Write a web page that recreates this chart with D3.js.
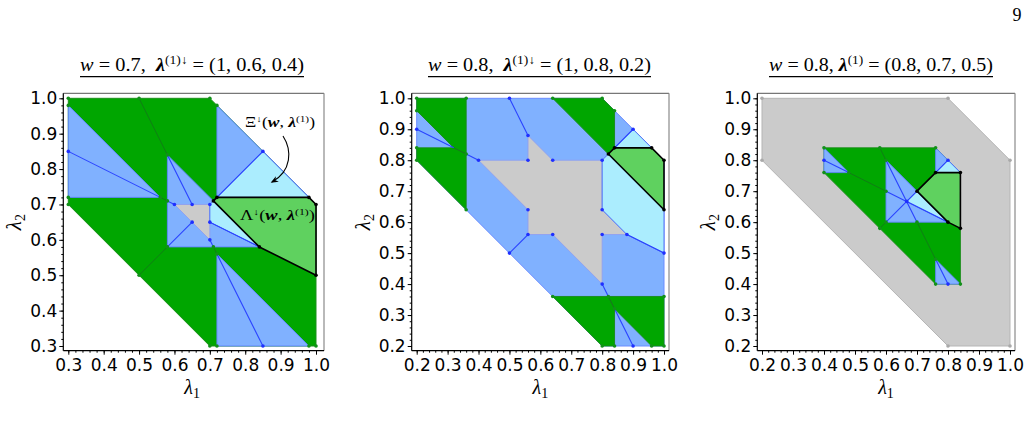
<!DOCTYPE html>
<html>
<head>
<meta charset="utf-8">
<script src="https://cdn.jsdelivr.net/npm/d3@7"></script>
<style>
  body { margin: 0; background: #fff; }
  .tick text { font-family: "DejaVu Sans", sans-serif; font-size: 17px; fill: #000; }
  .serif { font-family: "Liberation Serif", "DejaVu Serif", serif; fill: #000; }
</style>
</head>
<body>
<svg id="fig" width="1029" height="427"></svg>
<script>
// ---- données (coordonnées lambda1, lambda2) ----
const ticks1 = [0.3, 0.4, 0.5, 0.6, 0.7, 0.8, 0.9, 1.0];
const ticks23 = [0.2, 0.3, 0.4, 0.5, 0.6, 0.7, 0.8, 0.9, 1.0];

// panneau 1 : w = 0.7
const p1Hull = [[0.3,1],[0.7,1],[1,0.7],[1,0.3],[0.7,0.3],[0.3,0.7]];
const p1Green = [];
const p1Blue = [
  [[0.3,0.98],[0.3,0.72],[0.56,0.72]],
  [[0.98,0.3],[0.72,0.3],[0.72,0.56]],
  [[0.58,0.84],[0.58,0.58],[0.84,0.58]],
  [[0.72,0.98],[0.72,0.72],[0.98,0.72]]
];
const p1Gray = [[[0.6,0.7],[0.7,0.7],[0.7,0.6]]];
const p1Cyan = [
  [[0.72,0.72],[0.85,0.85],[0.98,0.72]],
  [[0.7,0.7],[0.71,0.71],[0.84,0.58],[0.7,0.65]]
];
const p1Lambda = [[0.71,0.71],[0.72,0.72],[0.98,0.72],[1,0.7],[1,0.5],[0.84,0.58]];
const p1BlueLines = [
  [[0.3,0.85],[0.56,0.72]], [[0.58,0.71],[0.6,0.7]],
  [[0.85,0.3],[0.72,0.56]], [[0.71,0.58],[0.7,0.6]],
  [[0.58,0.84],[0.65,0.7]], [[0.7,0.65],[0.84,0.58]],
  [[0.58,0.58],[0.65,0.65]], [[0.72,0.72],[0.85,0.85]]
];
const p1GreenLines = [
  [[0.5,1],[0.58,0.84]], [[0.5,0.5],[0.58,0.58]],
  [[0.56,0.72],[0.58,0.71]], [[0.72,0.56],[0.71,0.58]]
];
const p1BlueDots = [[0.3,0.85],[0.85,0.3],[0.85,0.85],[0.6,0.7],[0.65,0.7],[0.7,0.7],[0.65,0.65],[0.7,0.65],[0.7,0.6]];
const p1GreenDots = [[0.3,1],[0.3,0.98],[0.5,1],[0.7,1],[0.72,0.98],[0.58,0.84],[0.3,0.72],[0.3,0.7],[0.56,0.72],
  [0.58,0.71],[0.58,0.58],[0.5,0.5],[0.7,0.3],[0.72,0.3],[0.98,0.3],[1,0.3],[0.71,0.58],[0.72,0.56]];

// panneau 2 : w = 0.8, (1, 0.8, 0.2)
const p2Hull = [[0.2,1],[0.8,1],[1,0.8],[1,0.2],[0.8,0.2],[0.2,0.8]];
const p2Green = [
  [[0.2,1],[0.36,1],[0.36,0.82],[0.32,0.84],[0.2,0.96]],
  [[0.2,0.84],[0.32,0.84],[0.36,0.82],[0.36,0.64],[0.2,0.8]],
  [[1,0.2],[1,0.36],[0.82,0.36],[0.84,0.32],[0.96,0.2]],
  [[0.84,0.2],[0.84,0.32],[0.82,0.36],[0.64,0.36],[0.8,0.2]],
  [[0.64,1],[0.8,1],[0.84,0.96],[0.84,0.84],[0.82,0.82]]
];
const p2Blue = [];
const p2Gray = [[[0.8,0.8],[0.8,0.64],[0.88,0.56],[0.8,0.56],[0.8,0.4],[0.64,0.56],[0.56,0.56],
  [0.56,0.64],[0.4,0.8],[0.56,0.8],[0.56,0.88],[0.64,0.8]]];
const p2Cyan = [
  [[0.84,0.84],[0.9,0.9],[0.96,0.84]],
  [[0.8,0.8],[0.82,0.82],[1,0.64],[1,0.5],[0.88,0.56],[0.8,0.64]]
];
const p2Lambda = [[0.82,0.82],[0.84,0.84],[0.96,0.84],[1,0.8],[1,0.64]];
const p2BlueLines = [
  [[0.2,0.9],[0.32,0.84]], [[0.36,0.82],[0.4,0.8]],
  [[0.9,0.2],[0.84,0.32]], [[0.82,0.36],[0.8,0.4]],
  [[0.5,1],[0.56,0.88]], [[0.5,0.5],[0.56,0.56]],
  [[0.84,0.84],[0.9,0.9]], [[0.88,0.56],[1,0.5]]
];
const p2GreenLines = [[[0.32,0.84],[0.36,0.82]], [[0.84,0.32],[0.82,0.36]]];
const p2BlueDots = [[0.2,0.9],[0.4,0.8],[0.5,1],[0.56,0.88],[0.56,0.8],[0.64,0.8],[0.8,0.8],[0.9,0.9],[0.56,0.64],
  [0.56,0.56],[0.64,0.56],[0.5,0.5],[0.8,0.64],[0.88,0.56],[0.8,0.56],[1,0.5],[0.8,0.4],[0.9,0.2]];
const p2GreenDots = [[0.2,1],[0.2,0.96],[0.2,0.84],[0.2,0.8],[0.36,1],[0.36,0.82],[0.36,0.64],[0.64,1],[0.8,1],
  [0.84,0.96],[0.64,0.36],[0.82,0.36],[0.84,0.32],[1,0.36],[0.8,0.2],[0.84,0.2],[0.96,0.2],[1,0.2]];

// panneau 3 : w = 0.8, (0.8, 0.7, 0.5)
const p3Hull = [[0.2,1],[0.8,1],[1,0.8],[1,0.2],[0.8,0.2],[0.2,0.8]];
const p3Green = [[[0.4,0.84],[0.76,0.84],[0.84,0.76],[0.84,0.4],[0.76,0.4],[0.4,0.76]]];
const p3Blue = [
  [[0.4,0.84],[0.4,0.76],[0.48,0.76]],
  [[0.84,0.4],[0.76,0.4],[0.76,0.48]],
  [[0.76,0.84],[0.84,0.76],[0.76,0.76]],
  [[0.6,0.8],[0.6,0.6],[0.8,0.6]]
];
const p3Gray = [];
const p3Cyan = [
  [[0.76,0.76],[0.8,0.8],[0.84,0.76]],
  [[0.667,0.667],[0.7,0.7],[0.8,0.6]]
];
const p3Lambda = [[0.7,0.7],[0.76,0.76],[0.84,0.76],[0.84,0.58],[0.8,0.6]];
const p3BlueLines = [
  [[0.4,0.8],[0.48,0.76]], [[0.6,0.7],[0.8,0.6]],
  [[0.8,0.4],[0.76,0.48]], [[0.6,0.8],[0.7,0.6]],
  [[0.6,0.6],[0.7,0.7]], [[0.76,0.76],[0.8,0.8]]
];
const p3GreenLines = [
  [[0.48,0.76],[0.6,0.7]], [[0.7,0.6],[0.76,0.48]],
  [[0.58,0.84],[0.6,0.8]], [[0.58,0.58],[0.6,0.6]]
];
const p3BlueDots = [[0.4,0.8],[0.8,0.4],[0.8,0.8],[0.667,0.667]];
const p3GreenDots = [[0.4,0.84],[0.4,0.76],[0.48,0.76],[0.58,0.84],[0.76,0.84],[0.6,0.8],[0.6,0.7],[0.6,0.6],
  [0.58,0.58],[0.7,0.6],[0.76,0.48],[0.76,0.4],[0.84,0.4]];

const titles = [
  [["w","i"],["\u00a0= 0.7,\u00a0\u00a0",""],["λ","bi"],["(1)↓","sup"],["\u00a0= (1, 0.6, 0.4)",""]],
  [["w","i"],["\u00a0= 0.8,\u00a0\u00a0",""],["λ","bi"],["(1)↓","sup"],["\u00a0= (1, 0.8, 0.2)",""]],
  [["w","i"],["\u00a0= 0.8,\u00a0",""],["λ","bi"],["(1)","sup"],["\u00a0= (0.8, 0.7, 0.5)",""]]
];

// couleurs
const cGreen = "#00a600", cBlue = "#80b1ff", cCyan = "#abedfe", cLight = "#5fd15f", cGray = "#cbcbcb";

const svg = d3.select("#fig");

const panels = [
  {dom: [0.3, 1], xr: [68.3, 316], fx: [63.3, 324], ticks: ticks1, title: titles[0], tx: [80, 304],
   hull: p1Hull, hullFill: cGreen, hullStroke: "#1b8f1b", green: p1Green, blue: p1Blue, gray: p1Gray, cyan: p1Cyan,
   lam: p1Lambda, bl: p1BlueLines, gl: p1GreenLines, bd: p1BlueDots, gd: p1GreenDots, hd: []},
  {dom: [0.2, 1], xr: [416.7, 664], fx: [411.7, 669], ticks: ticks23, title: titles[1], tx: [428, 651],
   hull: p2Hull, hullFill: cBlue, hullStroke: "#6b8cff", green: p2Green, blue: p2Blue, gray: p2Gray, cyan: p2Cyan,
   lam: p2Lambda, bl: p2BlueLines, gl: p2GreenLines, bd: p2BlueDots, gd: p2GreenDots, hd: []},
  {dom: [0.2, 1], xr: [762, 1010], fx: [757.3, 1015], ticks: ticks23, title: titles[2], tx: [769, 993],
   hull: p3Hull, hullFill: cGray, hullStroke: "#b5b5b5", green: p3Green, blue: p3Blue, gray: p3Gray, cyan: p3Cyan,
   lam: p3Lambda, bl: p3BlueLines, gl: p3GreenLines, bd: p3BlueDots, gd: p3GreenDots, hd: p3Hull}
];

const fTop = 93.3, fBot = 350.7;

panels.forEach(p => {
  const g = svg.append("g");
  const x = d3.scaleLinear().domain(p.dom).range(p.xr);
  const y = d3.scaleLinear().domain(p.dom).range([346, 98.3]);
  const line = d3.line().x(d => x(d[0])).y(d => y(d[1]));
  const poly = d => line(d) + "Z";

  // fond du polygone
  g.append("path").attr("d", poly(p.hull)).attr("fill", p.hullFill).attr("stroke", p.hullStroke).attr("stroke-width", 1);

  const layer = (arr, fill, stroke) => g.selectAll(null).data(arr).join("path")
    .attr("d", poly).attr("fill", fill).attr("stroke", stroke).attr("stroke-width", 0.9)
    .attr("stroke-linejoin", "round");
  layer(p.green, cGreen, "#178a17");
  layer(p.blue, cBlue, "#5f82ff");
  layer(p.gray, cGray, "#8f9ff0");
  layer(p.cyan, cCyan, "#4a66f5");
  layer([p.lam], cLight, "none");

  g.selectAll(null).data(p.gl).join("path").attr("d", line)
    .attr("stroke", "#14741a").attr("stroke-width", 0.8).attr("fill", "none");
  g.selectAll(null).data(p.bl).join("path").attr("d", line)
    .attr("stroke", "#2a43ff").attr("stroke-width", 1.1).attr("fill", "none");
  g.append("path").attr("d", poly(p.lam)).attr("fill", "none")
    .attr("stroke", "#000").attr("stroke-width", 1.6).attr("stroke-linejoin", "round");

  const dots = (arr, col) => g.selectAll(null).data(arr).join("circle")
    .attr("cx", d => x(d[0])).attr("cy", d => y(d[1])).attr("r", 1.8).attr("fill", col);
  dots(p.hd, "#a9a9a9");
  dots(p.gd, "#12901a");
  dots(p.bd, "#1f2fff");
  dots(p.lam, "#000");

  // cadre
  g.append("line").attr("x1", p.fx[0]).attr("x2", p.fx[1]).attr("y1", fTop).attr("y2", fTop).attr("stroke", "#777").attr("stroke-width", 1.2);
  g.append("line").attr("x1", p.fx[1]).attr("x2", p.fx[1]).attr("y1", fTop).attr("y2", fBot).attr("stroke", "#8a8a8a").attr("stroke-width", 1.2);
  g.append("line").attr("x1", p.fx[0]).attr("x2", p.fx[0]).attr("y1", fTop).attr("y2", fBot).attr("stroke", "#000").attr("stroke-width", 1.2);
  g.append("line").attr("x1", p.fx[0]).attr("x2", p.fx[1]).attr("y1", fBot).attr("y2", fBot).attr("stroke", "#000").attr("stroke-width", 1.2);

  // axes
  const minor = d3.range(p.dom[0], p.dom[1] + 1e-9, 0.02);
  const fmt = d3.format(".1f");
  const ax = svg.append("g").attr("transform", `translate(0,${fBot})`);
  ax.append("g").call(d3.axisBottom(x).tickValues(minor).tickSize(2).tickFormat(""));
  ax.append("g").call(d3.axisBottom(x).tickValues(p.ticks).tickSize(4).tickPadding(4).tickFormat(fmt));
  const ay = svg.append("g").attr("transform", `translate(${p.fx[0]},0)`);
  ay.append("g").call(d3.axisLeft(y).tickValues(minor).tickSize(2).tickFormat(""));
  ay.append("g").call(d3.axisLeft(y).tickValues(p.ticks).tickSize(4).tickPadding(2).tickFormat(fmt));
  svg.selectAll(".domain").remove();

  // titre souligné
  const cx = (p.tx[0] + p.tx[1]) / 2;
  const t = svg.append("text").attr("class", "serif").attr("x", cx).attr("y", 71)
    .attr("text-anchor", "middle").style("font-size", "18px");
  p.title.forEach(([s, k]) => {
    const ts = t.append("tspan").text(s);
    if (k === "i") ts.style("font-style", "italic");
    if (k === "bi") ts.style("font-style", "italic").style("font-weight", "bold");
    if (k === "sup") { ts.attr("dy", -7).style("font-size", "12px"); }
    else if (s.startsWith("\u00a0= (")) ts.attr("dy", 7);
  });
  const tw = t.node().getComputedTextLength();
  t.attr("transform", `translate(${cx},71) scale(${(p.tx[1] - p.tx[0]) / tw},1) translate(${-cx},-71)`);
  svg.append("line").attr("x1", p.tx[0]).attr("x2", p.tx[1]).attr("y1", 76.7).attr("y2", 76.7)
    .attr("stroke", "#000").attr("stroke-width", 1.2);

  // étiquette lambda1
  const xl = svg.append("text").attr("class", "serif").attr("x", (p.xr[0] + p.xr[1]) / 2).attr("y", 394)
    .attr("text-anchor", "middle").style("font-size", "20px");
  xl.append("tspan").text("λ").style("font-style", "italic");
  xl.append("tspan").text("1").attr("dy", 4).style("font-size", "14px");

  const yl = svg.append("text").attr("class", "serif")
    .attr("transform", `translate(${p.fx[0] - 42},${(98.3 + 346) / 2}) rotate(-90)`)
    .attr("text-anchor", "middle").style("font-size", "21px");
  yl.append("tspan").text("λ").style("font-style", "italic");
  yl.append("tspan").text("2").attr("dy", 4).style("font-size", "14px");
});

// annotations du premier panneau
const ann = (x, y, big, w) => {
  const t = svg.append("text").attr("class", "serif").attr("x", x).attr("y", y).style("font-size", "14px");
  t.append("tspan").text(big);
  t.append("tspan").text("↓").attr("dy", -5).style("font-size", "9px");
  t.append("tspan").text("(").attr("dy", 5);
  t.append("tspan").text("w").style("font-style", "italic").style("font-weight", "bold");
  t.append("tspan").text(", ");
  t.append("tspan").text("λ").style("font-style", "italic").style("font-weight", "bold");
  t.append("tspan").text("(1)").attr("dy", -5).style("font-size", "9px");
  t.append("tspan").text(")").attr("dy", 5);
  const tw = t.node().getComputedTextLength();
  t.attr("transform", `translate(${x},0) scale(${w / tw},1) translate(${-x},0)`);
};
ann(245, 127, "Ξ", 70);
ann(240, 220, "Λ", 75);

svg.append("defs").append("marker").attr("id", "arr").attr("viewBox", "0 0 10 10")
  .attr("refX", 8).attr("refY", 5).attr("markerWidth", 7).attr("markerHeight", 7).attr("orient", "auto")
  .append("path").attr("d", "M0,1 L10,5 L0,9 L3,5 Z").attr("fill", "#000");
svg.append("path").attr("d", "M283,136 C292,150 292,171 272,182")
  .attr("fill", "none").attr("stroke", "#000").attr("stroke-width", 1.1).attr("marker-end", "url(#arr)");

// numéro de page
svg.append("text").attr("class", "serif").attr("x", 1017).attr("y", 21).attr("text-anchor", "middle")
  .style("font-size", "18px").text("9");
</script>
</body>
</html>
